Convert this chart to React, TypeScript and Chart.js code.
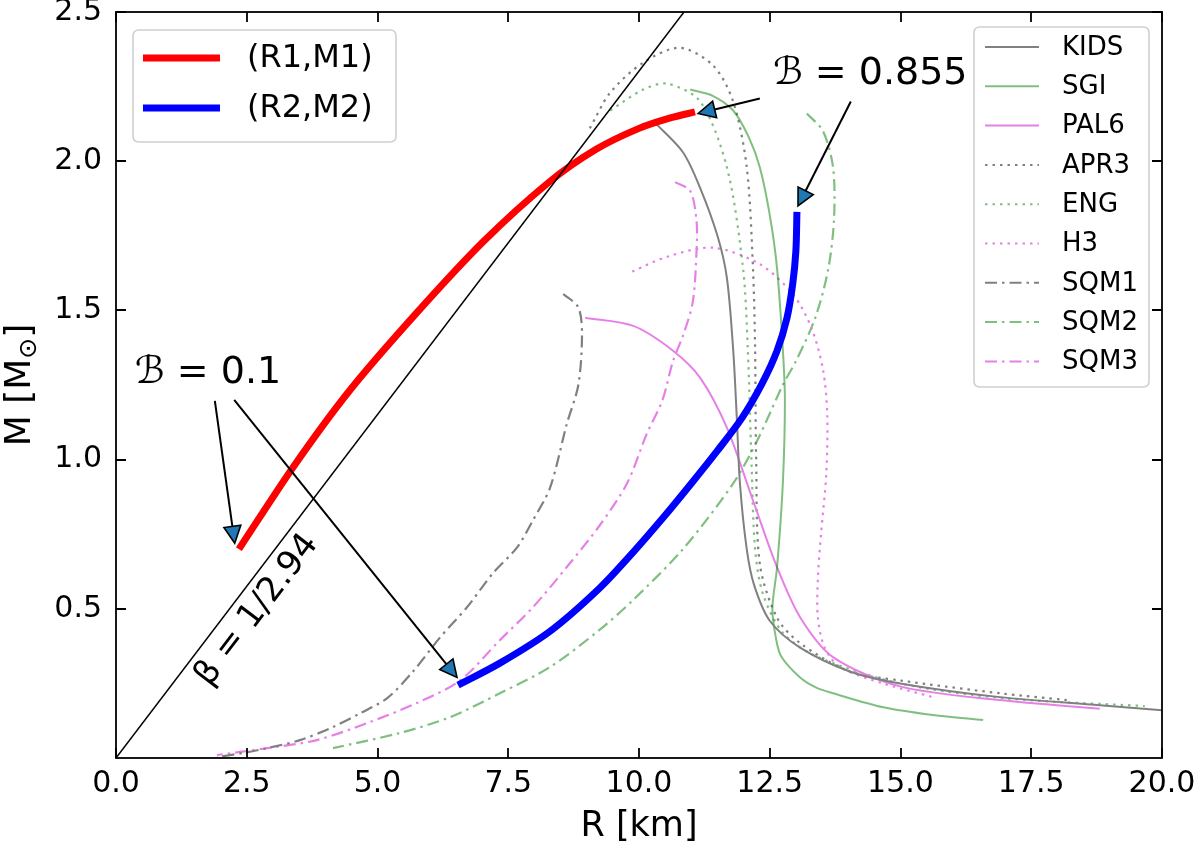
import React, { useEffect, useRef } from "react";
import { Chart, registerables } from "chart.js";

Chart.register(...registerables);

// ---------- data ----------
const X_TICKS = [0, 2.5, 5, 7.5, 10, 12.5, 15, 17.5, 20];
const Y_TICKS = [0.5, 1.0, 1.5, 2.0, 2.5];

const R1 = [2.35, 3.38, 4.46, 5.74, 7.02, 8.28, 9.18, 10.0, 10.6, 11.07];
const M1 = [0.7, 0.973, 1.23, 1.49, 1.73, 1.93, 2.04, 2.11, 2.145, 2.165];

const R2 = [6.54, 7.34, 8.3, 9.25, 9.89, 10.46, 11.0, 11.5, 11.97, 12.35, 12.64, 12.83, 12.94, 13.0, 13.02];
const M2 = [0.244, 0.318, 0.425, 0.57, 0.69, 0.805, 0.92, 1.03, 1.14, 1.254, 1.365, 1.475, 1.59, 1.7, 1.83];

const KIDS_R = [10.3, 10.84, 11.17, 11.5, 11.68, 11.8, 11.87, 11.93, 12.06, 12.2, 12.5, 13.08, 14.03, 14.99, 16.9, 18.81, 20.0];
const KIDS_M = [2.13, 2.03, 1.91, 1.75, 1.61, 1.37, 1.14, 0.92, 0.7, 0.58, 0.46, 0.37, 0.29, 0.25, 0.204, 0.177, 0.16];

const SGI_R = [10.98, 11.4, 11.8, 12.1, 12.31, 12.5, 12.64, 12.75, 12.79, 12.75, 12.64, 12.55, 12.62, 12.72, 13.08, 13.4, 13.71, 14.67, 15.62, 16.58];
const SGI_M = [2.24, 2.22, 2.17, 2.08, 1.98, 1.82, 1.64, 1.37, 1.2, 0.92, 0.64, 0.5, 0.4, 0.34, 0.27, 0.235, 0.217, 0.17, 0.144, 0.127];

const PAL6_R = [8.97, 9.89, 10.65, 11.17, 11.68, 12.18, 12.64, 13.08, 13.71, 14.99, 16.9, 18.81];
const PAL6_M = [1.475, 1.448, 1.365, 1.274, 1.107, 0.863, 0.639, 0.472, 0.338, 0.24, 0.194, 0.165];

const APR3_R = [9.06, 9.45, 10.08, 10.78, 11.42, 11.8, 12.06, 12.18, 12.22, 12.24, 12.31, 12.64, 13.08, 14.03, 14.99, 16.9, 18.18];
const APR3_M = [2.11, 2.23, 2.33, 2.38, 2.32, 2.2, 1.98, 1.64, 1.37, 1.0, 0.65, 0.47, 0.385, 0.29, 0.26, 0.217, 0.194];

const ENG_R = [9.45, 10.08, 10.54, 11.17, 11.68, 11.99, 12.08, 12.15, 12.22, 12.37, 12.75, 13.4, 14.99, 17.0, 19.67];
const ENG_M = [2.17, 2.24, 2.26, 2.2, 1.98, 1.64, 1.37, 1.0, 0.7, 0.55, 0.42, 0.34, 0.25, 0.2, 0.174];

const H3_R = [9.87, 10.54, 11.42, 12.31, 12.94, 13.3, 13.52, 13.6, 13.58, 13.48, 13.42, 13.42, 13.55, 13.84, 14.67, 15.62];
const H3_M = [1.63, 1.68, 1.71, 1.655, 1.555, 1.44, 1.3, 1.15, 0.95, 0.75, 0.6, 0.47, 0.37, 0.305, 0.25, 0.204];

const SQM1_R = [8.55, 8.84, 8.91, 8.84, 8.62, 8.3, 7.97, 7.67, 7.21, 6.71, 6.2, 5.68, 5.18, 4.67, 4.15, 3.52, 2.89, 2.43, 1.93];
const SQM1_M = [1.555, 1.51, 1.42, 1.25, 1.12, 0.906, 0.796, 0.706, 0.62, 0.505, 0.405, 0.29, 0.2, 0.15, 0.104, 0.06, 0.033, 0.017, 0.003];

const SQM2_R = [13.21, 13.52, 13.71, 13.73, 13.62, 13.37, 13.0, 12.75, 12.25, 11.8, 10.84, 9.89, 9.25, 8.3, 7.34, 6.39, 5.43, 4.15];
const SQM2_M = [2.16, 2.1, 1.98, 1.81, 1.64, 1.475, 1.33, 1.25, 1.06, 0.92, 0.7, 0.53, 0.43, 0.305, 0.217, 0.137, 0.084, 0.033];

const SQM3_R = [10.69, 10.98, 11.1, 11.1, 11.03, 10.85, 10.65, 10.45, 10.15, 9.77, 9.25, 8.62, 7.97, 7.34, 6.58, 5.75, 4.8, 3.84, 2.89, 1.93];
const SQM3_M = [1.93, 1.9, 1.8, 1.7, 1.53, 1.42, 1.33, 1.2, 1.087, 0.92, 0.78, 0.64, 0.505, 0.395, 0.26, 0.184, 0.117, 0.06, 0.033, 0.01];

const BETA_R = [0, 10.86];
const BETA_M = [0, 2.5];

// annotation arrows (data coords)
const ARROW_FROM_R = [12.31, 14.05, 1.89, 2.26];
const ARROW_FROM_M = [2.21, 2.2, 1.197, 1.2];
const ARROW_TO_R = [11.13, 13.04, 2.27, 6.52];
const ARROW_TO_M = [2.16, 1.85, 0.72, 0.27];

// ---------- styles ----------
const FONT = "'DejaVu Sans', 'Liberation Sans', sans-serif";
const GRAY = "#808080";
const GREEN = "rgba(0,128,0,0.5)";
const VIOLET = "#e680e6";
const SOLID: number[] = [];
const DOT = [2.5, 5];
const DASHDOT = [12, 5, 2.5, 5];

type Series = { label: string; r: number[]; m: number[]; color: string; dash: number[] };
const THIN: Series[] = [
  { label: "KIDS", r: KIDS_R, m: KIDS_M, color: GRAY, dash: SOLID },
  { label: "SGI", r: SGI_R, m: SGI_M, color: GREEN, dash: SOLID },
  { label: "PAL6", r: PAL6_R, m: PAL6_M, color: VIOLET, dash: SOLID },
  { label: "APR3", r: APR3_R, m: APR3_M, color: GRAY, dash: DOT },
  { label: "ENG", r: ENG_R, m: ENG_M, color: GREEN, dash: DOT },
  { label: "H3", r: H3_R, m: H3_M, color: VIOLET, dash: DOT },
  { label: "SQM1", r: SQM1_R, m: SQM1_M, color: GRAY, dash: DASHDOT },
  { label: "SQM2", r: SQM2_R, m: SQM2_M, color: GREEN, dash: DASHDOT },
  { label: "SQM3", r: SQM3_R, m: SQM3_M, color: VIOLET, dash: DASHDOT },
];

const pts = (r: number[], m: number[]) => r.map((v, i) => ({ x: v, y: m[i] }));

function drawArrow(ctx: CanvasRenderingContext2D, x0: number, y0: number, x1: number, y1: number) {
  const ang = Math.atan2(y1 - y0, x1 - x0);
  const hl = 17, hw = 8.5;
  const bx = x1 - hl * Math.cos(ang), by = y1 - hl * Math.sin(ang);
  ctx.strokeStyle = "#000";
  ctx.lineWidth = 2;
  ctx.setLineDash([]);
  ctx.beginPath();
  ctx.moveTo(x0, y0);
  ctx.lineTo(bx, by);
  ctx.stroke();
  ctx.beginPath();
  ctx.moveTo(x1, y1);
  ctx.lineTo(bx + hw * Math.sin(ang), by - hw * Math.cos(ang));
  ctx.lineTo(bx - hw * Math.sin(ang), by + hw * Math.cos(ang));
  ctx.closePath();
  ctx.fillStyle = "#1f77b4";
  ctx.fill();
  ctx.lineWidth = 1.6;
  ctx.stroke();
}

function roundRect(ctx: CanvasRenderingContext2D, x: number, y: number, w: number, h: number, r: number) {
  ctx.beginPath();
  ctx.moveTo(x + r, y);
  ctx.lineTo(x + w - r, y);
  ctx.quadraticCurveTo(x + w, y, x + w, y + r);
  ctx.lineTo(x + w, y + h - r);
  ctx.quadraticCurveTo(x + w, y + h, x + w - r, y + h);
  ctx.lineTo(x + r, y + h);
  ctx.quadraticCurveTo(x, y + h, x, y + h - r);
  ctx.lineTo(x, y + r);
  ctx.quadraticCurveTo(x, y, x + r, y);
  ctx.closePath();
}

const overlay = {
  id: "overlay",
  afterDraw(chart: any) {
    const { ctx, chartArea: a } = chart;
    const xs = chart.scales.x;
    const ys = chart.scales.y;
    const X = (v: number) => xs.getPixelForValue(v);
    const Y = (v: number) => ys.getPixelForValue(v);
    ctx.save();

    // spines
    ctx.strokeStyle = "#000";
    ctx.lineWidth = 1.8;
    ctx.setLineDash([]);
    ctx.strokeRect(a.left, a.top, a.right - a.left, a.bottom - a.top);
    // inward ticks on all sides
    ctx.beginPath();
    for (const v of X_TICKS) {
      const px = Math.round(X(v));
      ctx.moveTo(px, a.bottom);
      ctx.lineTo(px, a.bottom - 10);
      ctx.moveTo(px, a.top);
      ctx.lineTo(px, a.top + 10);
    }
    for (const v of Y_TICKS) {
      const py = Math.round(Y(v));
      ctx.moveTo(a.left, py);
      ctx.lineTo(a.left + 10, py);
      ctx.moveTo(a.right, py);
      ctx.lineTo(a.right - 10, py);
    }
    ctx.stroke();

    // axis titles
    ctx.fillStyle = "#000";
    ctx.font = `35px ${FONT}`;
    ctx.textAlign = "center";
    ctx.textBaseline = "alphabetic";
    ctx.fillText("R [km]", (a.left + a.right) / 2, 836);

    ctx.save();
    const cy = (a.top + a.bottom) / 2;
    ctx.translate(30, cy);
    ctx.rotate(-Math.PI / 2);
    ctx.textAlign = "left";
    const big = `36px ${FONT}`;
    const small = `25px ${FONT}`;
    ctx.font = big;
    const w1 = ctx.measureText("M [M").width;
    const w3 = ctx.measureText("]").width;
    ctx.font = small;
    const w2 = ctx.measureText("⊙").width;
    let sx = -(w1 + w2 + w3) / 2;
    ctx.font = big;
    ctx.fillText("M [M", sx, 0);
    sx += w1;
    ctx.font = small;
    ctx.fillText("⊙", sx, 6);
    sx += w2;
    ctx.font = big;
    ctx.fillText("]", sx, 0);
    ctx.restore();

    // beta line label
    {
      const ang = Math.atan2(Y(BETA_M[1]) - Y(BETA_M[0]), X(BETA_R[1]) - X(BETA_R[0]));
      ctx.save();
      ctx.translate(X(2.7), Y(0.495));
      ctx.rotate(ang);
      ctx.font = `34px ${FONT}`;
      ctx.textAlign = "center";
      ctx.textBaseline = "middle";
      ctx.fillStyle = "#000";
      ctx.fillText("β = 1/2.94", 0, 0);
      ctx.restore();
    }

    // annotation texts
    ctx.textAlign = "left";
    ctx.textBaseline = "alphabetic";
    ctx.font = `38px ${FONT}`;
    ctx.fillText("ℬ = 0.855", X(12.56), Y(2.26));
    ctx.fillText("ℬ = 0.1", X(0.36), Y(1.257));

    // arrows
    for (let i = 0; i < ARROW_FROM_R.length; i++) {
      drawArrow(ctx, X(ARROW_FROM_R[i]), Y(ARROW_FROM_M[i]), X(ARROW_TO_R[i]), Y(ARROW_TO_M[i]));
    }

    // legend 1
    ctx.setLineDash([]);
    roundRect(ctx, 133, 30, 263, 112, 6);
    ctx.fillStyle = "rgba(255,255,255,0.85)";
    ctx.fill();
    ctx.strokeStyle = "#d0d0d0";
    ctx.lineWidth = 1.6;
    ctx.stroke();
    const l1 = [
      { t: "(R1,M1)", c: "#ff0000", y: 58 },
      { t: "(R2,M2)", c: "#0000ff", y: 108 },
    ];
    ctx.font = `32px ${FONT}`;
    ctx.textBaseline = "middle";
    for (const e of l1) {
      ctx.strokeStyle = e.c;
      ctx.lineWidth = 7;
      ctx.beginPath();
      ctx.moveTo(143, e.y);
      ctx.lineTo(220, e.y);
      ctx.stroke();
      ctx.fillStyle = "#000";
      ctx.fillText(e.t, 247, e.y + 1);
    }

    // legend 2
    roundRect(ctx, 974, 27, 175, 360, 6);
    ctx.fillStyle = "rgba(255,255,255,0.85)";
    ctx.fill();
    ctx.strokeStyle = "#d0d0d0";
    ctx.lineWidth = 1.6;
    ctx.stroke();
    ctx.font = `26px ${FONT}`;
    THIN.forEach((s, i) => {
      const yy = 47 + i * 39.3;
      ctx.strokeStyle = s.color;
      ctx.lineWidth = 2;
      ctx.setLineDash(s.dash);
      ctx.beginPath();
      ctx.moveTo(985, yy);
      ctx.lineTo(1039, yy);
      ctx.stroke();
      ctx.setLineDash([]);
      ctx.fillStyle = "#000";
      ctx.fillText(s.label, 1062, yy + 1);
    });

    ctx.restore();
  },
};

export default function App() {
  const ref = useRef<HTMLCanvasElement | null>(null);
  useEffect(() => {
    if (!ref.current) return;
    const datasets: any[] = THIN.map((s, i) => ({
      label: s.label,
      data: pts(s.r, s.m),
      borderColor: s.color,
      backgroundColor: s.color,
      borderWidth: s.dash.length ? 2.2 : 2,
      borderDash: s.dash,
      pointRadius: 0,
      showLine: true,
      fill: false,
      tension: 0.3,
      order: 10 + i,
    }));
    datasets.push({
      label: "(R1,M1)",
      data: pts(R1, M1),
      borderColor: "#ff0000",
      borderWidth: 7,
      pointRadius: 0,
      showLine: true,
      tension: 0.3,
      borderCapStyle: "butt",
      order: 3,
    });
    datasets.push({
      label: "(R2,M2)",
      data: pts(R2, M2),
      borderColor: "#0000ff",
      borderWidth: 7,
      pointRadius: 0,
      showLine: true,
      tension: 0.3,
      borderCapStyle: "butt",
      order: 2,
    });
    datasets.push({
      label: "beta",
      data: pts(BETA_R, BETA_M),
      borderColor: "#000",
      borderWidth: 1.5,
      pointRadius: 0,
      showLine: true,
      tension: 0,
      order: 1,
    });

    const chart = new Chart(ref.current, {
      type: "scatter",
      data: { datasets },
      options: {
        responsive: false,
        animation: false,
        devicePixelRatio: 1,
        layout: { padding: { top: 12, right: 38, left: 0, bottom: 0 } },
        plugins: { legend: { display: false }, tooltip: { enabled: false } },
        scales: {
          x: {
            type: "linear",
            min: 0,
            max: 20,
            afterFit(s: any) {
              s.height = 88;
              s.paddingLeft = 0;
              s.paddingRight = 0;
            },
            grid: { display: false, drawTicks: false },
            border: { display: false },
            ticks: {
              stepSize: 2.5,
              autoSkip: false,
              maxRotation: 0,
              padding: 8,
              color: "#000",
              font: { family: FONT, size: 30 },
              callback: (v: any) => Number(v).toFixed(1),
            },
          },
          y: {
            type: "linear",
            min: 0,
            max: 2.5,
            afterFit(s: any) {
              s.width = 116;
              s.paddingTop = 0;
              s.paddingBottom = 0;
            },
            grid: { display: false, drawTicks: false },
            border: { display: false },
            ticks: {
              stepSize: 0.5,
              autoSkip: false,
              padding: 14,
              color: "#000",
              font: { family: FONT, size: 30 },
              callback: (v: any) => (Number(v) === 0 ? "" : Number(v).toFixed(1)),
            },
          },
        },
      },
      plugins: [overlay],
    } as any);
    return () => chart.destroy();
  }, []);

  return (
    <div style={{ position: "fixed", left: 0, top: 0, width: 1200, height: 846, background: "#fff" }}>
      <canvas ref={ref} width={1200} height={846} style={{ display: "block", width: 1200, height: 846 }} />
    </div>
  );
}
